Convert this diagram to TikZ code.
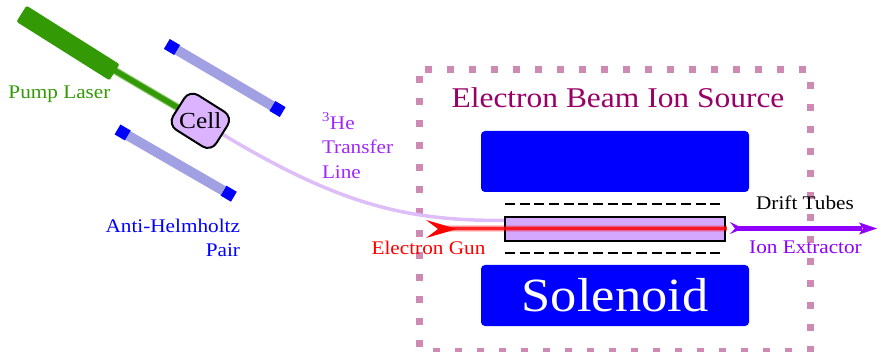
\documentclass[tikz,border=0pt]{standalone}
\usepackage{fontspec}
\setmainfont{Liberation Serif}[FakeStretch=1.1]
\usetikzlibrary{backgrounds}
\definecolor{lasergreen}{HTML}{339A05}
\definecolor{coillight}{HTML}{A0A0E2}
\definecolor{cellfill}{HTML}{DCB3FF}
\definecolor{linelilac}{HTML}{DDBEF8}
\definecolor{tubefill}{HTML}{D4A8FF}
\definecolor{boxdots}{HTML}{CF8AB4}
\definecolor{titlecol}{HTML}{990066}
\definecolor{ionpurple}{HTML}{8F00FF}
\tikzset{
  fs/.style={font=\fontsize{#1}{#1}\selectfont},
  lab/.style={inner sep=0pt,outer sep=0pt,fs=19.3},
  coilcap/.style={draw=none,fill=blue,minimum width=12pt,minimum height=11.5pt,inner sep=0pt,rotate=-30.5},
  coilbar/.style={coillight,line width=10pt},
  solblock/.style={fill=blue,rounded corners=4pt,minimum width=268pt,inner sep=0pt},
  drift/.style={line width=2.4pt,dash pattern=on 10pt off 4.67pt},
}
\begin{document}
\begin{tikzpicture}[x=1pt,y=-1pt]
\useasboundingbox (0,0) rectangle (877,352);
\node[lab,text=titlecol,fs=28.6] (title) at (618,97.5) {Electron Beam Ion Source};
% solenoid
\node[solblock,minimum height=61pt] (soltop) at (615,161.5) {};
\node[solblock,minimum height=61pt,text=white,fs=47.7] (solbot) at (615,295.5) {Solenoid};
% tube
\node[draw=black,line width=2.3pt,fill=tubefill,minimum width=220pt,minimum height=24pt,inner sep=0pt] (tube) at (615,228.7) {};
\coordinate (dta) at (505,204.3); \coordinate (dtb) at (722,204.3);
\coordinate (dtc) at (505,253.3); \coordinate (dtd) at (722,253.3);
\draw[drift] (dta) -- (dtb);
\draw[drift] (dtc) -- (dtd);
% laser and cell
\node[fill=lasergreen,rounded corners=2pt,minimum width=110pt,minimum height=19pt,inner sep=0pt,rotate=-32.2] (laser) at (68,43) {};
\node[draw=black,line width=2pt,fill=cellfill,rounded corners=10pt,minimum width=51pt,minimum height=41pt,inner sep=0pt,rotate=-32.2] (cellbox) at (200.3,120.8) {};
\node[lab,fs=23] (celltext) at (cellbox) {Cell};
% coils
\node[coilcap] (ca1) at (172,47) {};
\node[coilcap] (ca2) at (277.5,109) {};
\node[coilcap] (cb1) at (122.7,132.5) {};
\node[coilcap] (cb2) at (228.7,193.7) {};
\coordinate (lineend) at (507,220.3);
\begin{scope}[on background layer]
\begin{scope}
\clip (0,0) rectangle (877,352);
\draw[boxdots,line width=7pt,dash pattern=on 7pt off 15pt]
  (424.5,69.7) -- (806,69.7)
  (810.3,82.2) -- (810.3,352)
  (791.5,351.3) -- (433,351.3)
  (419.6,347) -- (419.6,75.5);
\end{scope}
\draw[linelilac,line width=3.5pt] (cellbox.center) .. controls (325,198) and (395,222) .. (lineend);
\draw[lasergreen,line width=8pt,opacity=.3] (laser.center) -- (cellbox.center);
\draw[lasergreen,line width=6.5pt,opacity=.6] (laser.center) -- (cellbox.center);
\draw[lasergreen,line width=5pt] (laser.center) -- (cellbox.center);
\draw[coilbar] (ca1) -- (ca2);
\draw[coilbar] (cb1) -- (cb2);
\end{scope}
% electron beam
\coordinate (gun) at (438,228.7);
\coordinate (beamend) at (727,228.7);
\draw[red,line width=7pt,opacity=.18] (gun) -- (beamend);
\draw[red,line width=5pt,opacity=.3] (gun) -- (beamend);
\draw[red,line width=3.5pt,opacity=.75] (gun) -- (beamend);
\fill[red] (426,220) -- (457,229) -- (426,238) -- (438,229) -- cycle;
% ion extractor
\coordinate (ionstart) at (735,228.5);
\coordinate (iontip) at (877,228.5);
\draw[ionpurple,line width=4.5pt] (ionstart) -- (862,228.5);
\fill[ionpurple] (730,222) -- (743,228.5) -- (730,234) -- (735,228.5) -- cycle;
\fill[ionpurple] (859,222.5) -- (iontip) -- (859,234.5) -- (863,228.5) -- cycle;
% labels
\node[lab,text=lasergreen] (lbpump) at (59.5,94) {Pump Laser};
\node[lab,text=blue,align=right,anchor=north east] (lbcoil) at (240,219) {Anti-Helmholtz\\[4.7pt]Pair};
\node[lab,text=ionpurple!85!white,align=left,anchor=north west] (lbhe) at (322,113) {\textsuperscript{3}He\\[5.2pt]Transfer\\[5.2pt]Line};
\node[lab,text=red] (lbgun) at (428.5,247.5) {Electron Gun};
\node[lab,text=black] (lbdrift) at (805,203) {Drift Tubes};
\node[lab,text=ionpurple] (lbion) at (805.5,247.5) {Ion Extractor};
\end{tikzpicture}
\end{document}
